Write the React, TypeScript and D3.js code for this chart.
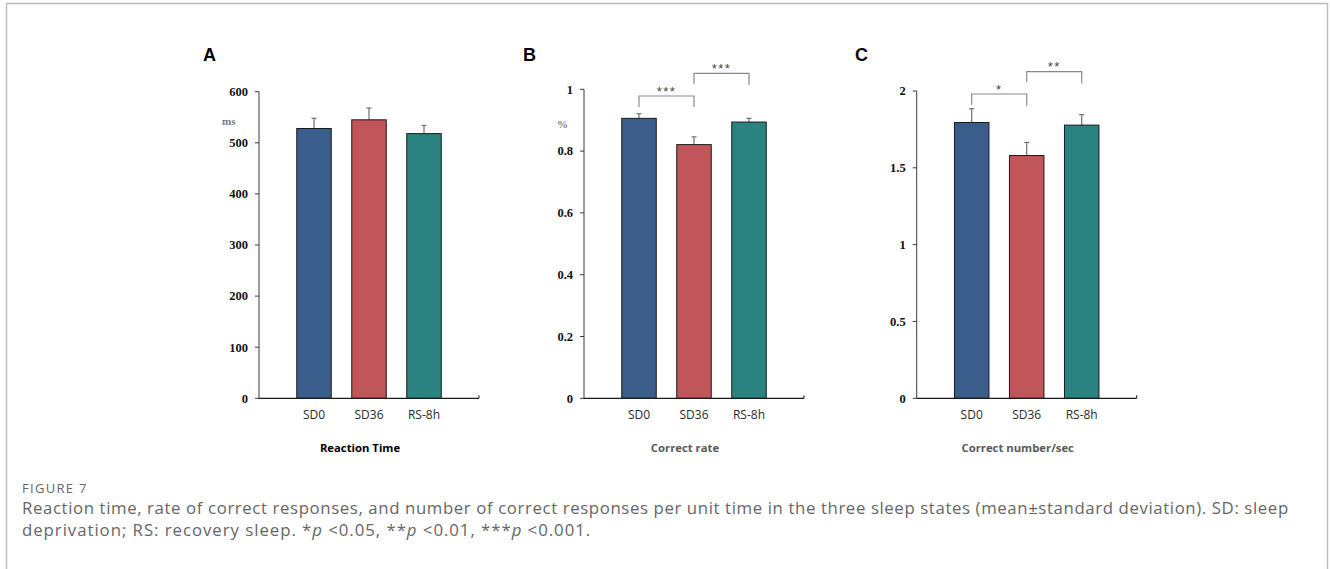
import * as d3 from 'd3';

// groups shared by the three panels
const categories = ['SD0', 'SD36', 'RS-8h'];
const barColors = ['#3a5d8b', '#c0565a', '#2a8381'];

// A: reaction time (ms)
const reactionTime = [528, 545, 518];
const reactionTimeSd = [20, 23, 16];
const reactionTicks = [0, 100, 200, 300, 400, 500, 600];

// B: correct rate
const correctRate = [0.906, 0.821, 0.894];
const correctRateSd = [0.015, 0.025, 0.012];
const correctRateTicks = [0, 0.2, 0.4, 0.6, 0.8, 1];

// C: correct number per second
const correctPerSec = [1.795, 1.58, 1.778];
const correctPerSecSd = [0.09, 0.085, 0.068];
const correctPerSecTicks = [0, 0.5, 1, 1.5, 2];

// significance brackets: [from, to, label]
const sigB: [number, number, string][] = [[0, 1, '***'], [1, 2, '***']];
const sigC: [number, number, string][] = [[0, 1, '*'], [1, 2, '**']];

const captionHead = 'FIGURE 7';
const captionLine1 =
  'Reaction time, rate of correct responses, and number of correct responses per unit time in the three sleep states (mean\u00b1standard deviation). SD: sleep';
const captionLine2Parts = [
  { t: 'deprivation; RS: recovery sleep. *', i: false },
  { t: 'p', i: true },
  { t: ' <0.05, **', i: false },
  { t: 'p', i: true },
  { t: ' <0.01, ***', i: false },
  { t: 'p', i: true },
  { t: ' <0.001.', i: false },
];

const W = 1330;
const H = 569;
const serif = '"Liberation Serif", "Times New Roman", serif';
const sans = '"Open Sans", "Noto Sans", sans-serif';

interface PanelProps {
  letter: string;
  letterX: number;
  x0: number;
  yTop: number;
  values: number[];
  sd: number[];
  ticks: number[];
  unit: string;
  unitX: number;
  unitY: number;
  title: string;
  titleColor: string;
  sig: [number, number, string][];
  // bracket levels in px: [top, legBottomLeft, legBottomRight]
  bracketY: [number, number, number][];
}

function Panel(p: PanelProps) {
  const plotW = 220;
  const y0 = 398.3;
  const max = p.ticks[p.ticks.length - 1];
  const x = d3.scaleLinear().domain([0, categories.length + 1]).range([p.x0, p.x0 + plotW]);
  const y = d3.scaleLinear().domain([0, max]).range([y0, p.yTop]);
  const barW = 34.5;
  const capW = 5;

  return (
    <g>
      <text x={p.letterX} y={61} fontFamily='"Liberation Sans", Arial, sans-serif' fontWeight="bold" fontSize={18} fill="#000">
        {p.letter}
      </text>
      {/* y axis */}
      <line x1={p.x0} x2={p.x0} y1={y(max)} y2={y0} stroke="#3a3a3a" strokeWidth={1} />
      {p.ticks.map(t => (
        <g key={t}>
          <line x1={p.x0 - 4} x2={p.x0} y1={y(t)} y2={y(t)} stroke="#3a3a3a" strokeWidth={1} />
          <text x={p.x0 - 11} y={y(t)} dy="0.35em" textAnchor="end" fontFamily={serif} fontWeight="bold" fontSize={12.5} fill="#111">
            {String(t)}
          </text>
        </g>
      ))}
      <text x={p.unitX} y={p.unitY} fontFamily={serif} fontWeight="bold" fontSize={11} fill="#7a7a7a">
        {p.unit}
      </text>
      {/* bars */}
      {p.values.map((v, i) => {
        const cx = x(i + 1);
        return (
          <g key={categories[i]}>
            <line x1={cx} x2={cx} y1={y(v)} y2={y(v + p.sd[i])} stroke="#6e6e6e" strokeWidth={1.2} />
            <line x1={cx - capW / 2} x2={cx + capW / 2} y1={y(v + p.sd[i])} y2={y(v + p.sd[i])} stroke="#6e6e6e" strokeWidth={1.2} />
            <rect x={cx - barW / 2} y={y(v)} width={barW} height={y0 - y(v)} fill={barColors[i]} stroke="#1a1a1a" strokeWidth={1} />
            <text x={cx} y={419} textAnchor="middle" fontFamily={sans} fontSize={12} fill="#2a2a2a">
              {categories[i]}
            </text>
          </g>
        );
      })}
      {/* x axis */}
      <line x1={p.x0} x2={p.x0 + plotW} y1={y0} y2={y0} stroke="#1a1a1a" strokeWidth={1.2} />
      <line x1={p.x0 + plotW} x2={p.x0 + plotW} y1={y0} y2={y0 - 3} stroke="#1a1a1a" strokeWidth={1} />
      {/* significance */}
      {p.sig.map(([a, b, label], k) => {
        const [top, lb, rb] = p.bracketY[k];
        const xa = x(a + 1);
        const xb = x(b + 1);
        return (
          <g key={k}>
            <path d={`M${xa},${lb}V${top}H${xb}V${rb}`} fill="none" stroke="#8a8a8a" strokeWidth={1.2} />
            <text x={(xa + xb) / 2} y={top - 0.5} textAnchor="middle" fontFamily='"Liberation Sans", Arial, sans-serif' fontSize={13} letterSpacing={1.5} fill="#444">
              {label}
            </text>
          </g>
        );
      })}
      <text x={p.x0 + plotW / 2 - 9} y={452} textAnchor="middle" fontFamily={sans} fontWeight="bold" fontSize={11.3} fill={p.titleColor}>
        {p.title}
      </text>
    </g>
  );
}

export default function App() {
  return (
    <svg width={W} height={H} style={{ position: 'absolute', left: 0, top: 0, background: '#fff' }}>
      <rect x={0} y={0} width={W} height={H} fill="#fff" />
      <path d={`M6.5,${H}V3.5H1327.5V${H}`} fill="none" stroke="#bcbcbc" strokeWidth={1.5} />

      <Panel letter="A" letterX={203} x0={259} yTop={91.7} values={reactionTime} sd={reactionTimeSd} ticks={reactionTicks}
        unit="ms" unitX={222} unitY={125} title="Reaction Time" titleColor="#000" sig={[]} bracketY={[]} />
      <Panel letter="B" letterX={523} x0={584} yTop={89.3} values={correctRate} sd={correctRateSd} ticks={correctRateTicks}
        unit="%" unitX={557} unitY={128} title="Correct rate" titleColor="#5a5a5a" sig={sigB}
        bracketY={[[96, 107, 107], [73.3, 84, 85]]} />
      <Panel letter="C" letterX={855} x0={916.7} yTop={91} values={correctPerSec} sd={correctPerSecSd} ticks={correctPerSecTicks}
        unit="" unitX={0} unitY={0} title="Correct number/sec" titleColor="#5a5a5a" sig={sigC}
        bracketY={[[94, 105, 105.7], [71.7, 82.3, 83.3]]} />

      <text x={22} y={493} fontFamily={sans} fontSize={13} letterSpacing={0.6} fill="#666" textLength={65} lengthAdjust="spacing">
        {captionHead}
      </text>
      <text x={22} y={514} fontFamily={sans} fontSize={16.8} letterSpacing={0.85} fill="#666" textLength={1267} lengthAdjust="spacing">
        {captionLine1}
      </text>
      <text x={22} y={536} fontFamily={sans} fontSize={16.8} letterSpacing={0.85} fill="#666" textLength={569} lengthAdjust="spacing">
        {captionLine2Parts.map((s, i) => (
          <tspan key={i} fontStyle={s.i ? 'italic' : 'normal'}>{s.t}</tspan>
        ))}
      </text>
    </svg>
  );
}
